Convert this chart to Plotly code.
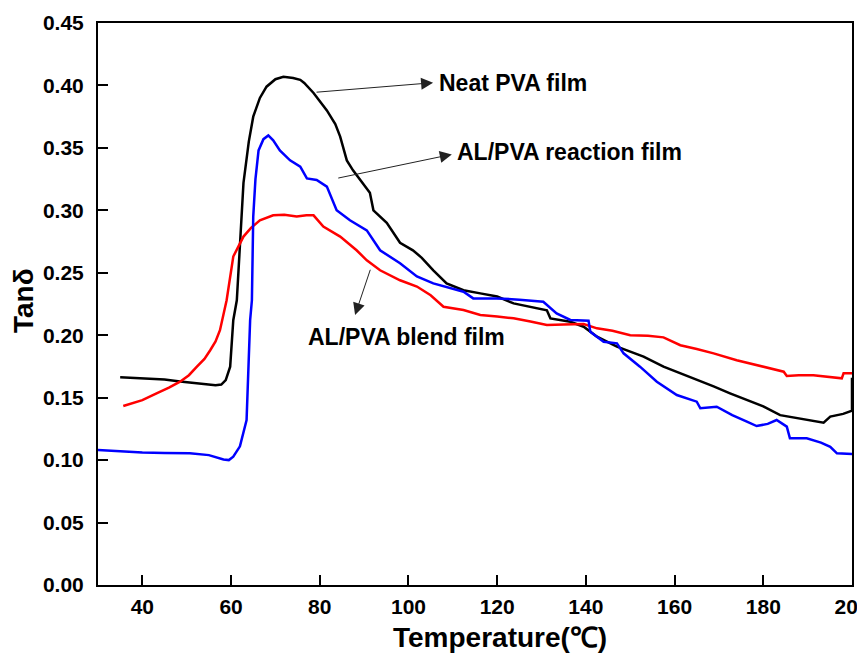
import plotly.graph_objects as go

# Neat PVA film
black_x = [35, 40, 45, 48.5, 52, 54.5, 56.5, 57.8, 58.8, 59.8, 60.5, 61.3, 62, 62.8, 64, 65, 66.5, 68, 70, 71.8,
           74, 75.6, 76.5, 78.6, 81.6, 83.5, 84.6, 86.1, 87.5, 89.1, 91.3, 92.1, 93.5, 95.1, 98.1, 101, 103, 105.6, 108.6, 112.4,
           116.2, 120, 123.7, 127.5, 131.2, 132, 136.5, 139.5, 142.5, 147, 150, 153, 157.5, 161, 165, 168.8, 172.5, 176.3, 180, 183.8,
           187.6, 190, 193.6, 195.1, 198, 200, 200]
black_y = [0.1663, 0.1655, 0.1645, 0.1630, 0.1615, 0.1605, 0.1600, 0.1605, 0.1640, 0.1748, 0.212, 0.228, 0.275, 0.322, 0.355, 0.375, 0.390, 0.399, 0.405, 0.407,
           0.406, 0.4045, 0.402, 0.394, 0.380, 0.369, 0.359, 0.340, 0.332, 0.324, 0.314, 0.300, 0.295, 0.290, 0.274, 0.268, 0.262, 0.252, 0.2415, 0.236,
           0.2335, 0.231, 0.2255, 0.223, 0.220, 0.2135, 0.2108, 0.2068, 0.1988, 0.1908, 0.187, 0.1828, 0.1748, 0.170, 0.164, 0.159, 0.1535, 0.148, 0.143, 0.136,
           0.1335, 0.1325, 0.130, 0.1348, 0.137, 0.1396, 0.166]

# AL/PVA reaction film
blue_x = [30, 35, 40, 45, 50.7, 55, 58.3, 59.5, 60.5, 62, 63.5, 64.3, 64.7, 65, 65.5, 66.2, 67.3, 68.4, 69.5, 71,
          73.3, 75.6, 77.1, 79.3, 81.6, 83.8, 86.8, 90.6, 93.6, 98.1, 101.9, 105.6, 109.4, 112.4, 114.6, 119.9, 125, 130.4, 133.4, 136.5,
          140.6, 141, 144, 147, 148.5, 152.2, 156, 160.5, 165, 165.8, 169.5, 173, 176.3, 178.5, 181, 183, 185.3, 186, 189.8, 193,
          195.1, 196.6, 200]
blue_y = [0.108, 0.1068, 0.106, 0.1057, 0.1054, 0.104, 0.1005, 0.100, 0.1027, 0.111, 0.132, 0.212, 0.228, 0.295, 0.325, 0.348, 0.357, 0.360, 0.356, 0.348,
          0.340, 0.335, 0.3256, 0.3243, 0.319, 0.300, 0.292, 0.284, 0.268, 0.2576, 0.247, 0.2415, 0.2375, 0.2348, 0.2295, 0.2295, 0.2285, 0.2268, 0.2175, 0.2122,
          0.2116, 0.2028, 0.1948, 0.1935, 0.1855, 0.1748, 0.1628, 0.1521, 0.1468, 0.1415, 0.1428, 0.136, 0.1308, 0.1273, 0.129, 0.1321, 0.1268, 0.1175, 0.1175, 0.114,
          0.1107, 0.1054, 0.1049]

# AL/PVA blend film
red_x = [35.7, 40, 43.2, 46, 48.5, 50.5, 52.3, 54, 55.3, 56.5, 57.5, 59, 60.5, 62.8, 64.5, 66.5, 69.5, 72, 74.8, 77,
         78.6, 80.8, 84.6, 88.3, 90.6, 93.6, 98.1, 101.9, 105, 107.9, 112.4, 116.2, 120, 123.7, 127.5, 131.2, 135, 139.5, 142.5, 146,
         150, 154, 157.5, 161.3, 165, 168.8, 174, 180, 184.6, 185.3, 188, 191.3, 195, 197.7, 198.1, 200]
red_y = [0.1433, 0.148, 0.1535, 0.158, 0.1628, 0.168, 0.1748, 0.181, 0.188, 0.195, 0.204, 0.228, 0.263, 0.279, 0.286, 0.292, 0.296, 0.2965, 0.295, 0.296,
         0.296, 0.287, 0.279, 0.268, 0.260, 0.252, 0.244, 0.239, 0.232, 0.2228, 0.2202, 0.2162, 0.215, 0.2135, 0.211, 0.2082, 0.2085, 0.209, 0.2055, 0.2035,
         0.200, 0.1995, 0.1983, 0.192, 0.189, 0.1855, 0.180, 0.1748, 0.1708, 0.1673, 0.168, 0.168, 0.1665, 0.1655, 0.1695, 0.1695]

x_ticks = [40, 60, 80, 100, 120, 140, 160, 180, 200]
y_ticks = [0.00, 0.05, 0.10, 0.15, 0.20, 0.25, 0.30, 0.35, 0.40, 0.45]

FONT = "Liberation Sans, Arial, sans-serif"

fig = go.Figure()
fig.add_trace(go.Scatter(x=black_x, y=black_y, mode="lines", line=dict(color="black", width=2.5), name="Neat PVA film"))
fig.add_trace(go.Scatter(x=red_x, y=red_y, mode="lines", line=dict(color="#ff0000", width=2.5), name="AL/PVA blend film"))
fig.add_trace(go.Scatter(x=blue_x, y=blue_y, mode="lines", line=dict(color="#0000ff", width=2.5), name="AL/PVA reaction film"))

arrow_style = dict(showarrow=True, arrowhead=2, arrowsize=2.4, arrowwidth=1, arrowcolor="#222222",
                   axref="x", ayref="y", xref="x", yref="y", text="", standoff=0)
# arrows: x,y = head ; ax,ay = tail
fig.add_annotation(x=105.55, y=0.4022, ax=78.94, ay=0.3945, **arrow_style)
fig.add_annotation(x=109.77, y=0.3448, ax=83.83, ay=0.3256, **arrow_style)
fig.add_annotation(x=87.96, y=0.2162, ax=91.5, ay=0.2536, **arrow_style)

lab_font = dict(family=FONT, size=23, color="black")
fig.add_annotation(x=106.4, y=0.4019, text="<b>Neat PVA film</b>", showarrow=False, xanchor="left", yanchor="middle", font=lab_font)
fig.add_annotation(x=110.5, y=0.3469, text="<b>AL/PVA reaction film</b>", showarrow=False, xanchor="left", yanchor="middle", font=lab_font)
fig.add_annotation(x=99.57, y=0.1986, text="<b>AL/PVA blend film</b>", showarrow=False, xanchor="center", yanchor="middle", font=lab_font)

# axis titles
fig.add_annotation(xref="paper", yref="paper", x=-0.0995, y=0.507, text="<b>Tanδ</b>", textangle=-90,
                   showarrow=False, xanchor="center", yanchor="middle", font=dict(family=FONT, size=28, color="black"))
fig.add_annotation(xref="paper", yref="paper", x=0.533, y=-0.0943, text="<b>Temperature(℃)</b>",
                   showarrow=False, xanchor="center", yanchor="middle", font=dict(family=FONT, size=28, color="black"))

# page body adds an 8px offset, so the figure is 8px smaller and margins shifted
fig.update_layout(
    width=857, height=645,
    margin=dict(l=90, r=13, t=15, b=68, autoexpand=False),
    paper_bgcolor="white", plot_bgcolor="white",
    showlegend=False,
    font=dict(family=FONT, color="black"),
)
fig.update_xaxes(range=[30, 200], tickvals=x_ticks, ticktext=[f"<b>{v}</b>" for v in x_ticks],
                 ticks="inside", ticklen=10, tickwidth=1.5, tickcolor="black",
                 showline=True, linewidth=2, linecolor="black", mirror=True,
                 showgrid=False, zeroline=False, automargin=False, ticklabeloverflow="allow",
                 tickfont=dict(family=FONT, size=21, color="black"), ticklabelstandoff=2)
fig.update_yaxes(range=[0, 0.45], tickvals=y_ticks, ticktext=[f"<b>{v:.2f}</b>" for v in y_ticks],
                 ticks="inside", ticklen=10, tickwidth=1.5, tickcolor="black",
                 showline=True, linewidth=2, linecolor="black", mirror=True,
                 showgrid=False, zeroline=False, automargin=False,
                 tickfont=dict(family=FONT, size=21, color="black"), ticklabelstandoff=8)

fig.write_html("out.html")
